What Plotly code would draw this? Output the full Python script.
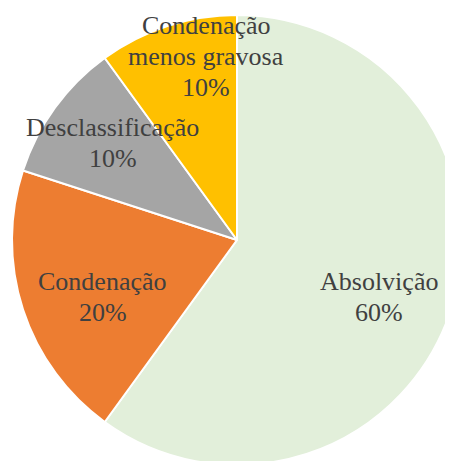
import math
import plotly.graph_objects as go

categories = ["Absolvição", "Condenação", "Desclassificação", "Condenação menos gravosa"]
values = [60, 20, 10, 10]
label_lines = [["Absolvição"], ["Condenação"], ["Desclassificação"], ["Condenação", "menos gravosa"]]
colors = ["#E2EFDA", "#ED7D31", "#A5A5A5", "#FFC000"]

# label placement style (radius fraction and angular shift from slice middle)
label_r = [0.681, 0.648, 0.700, 0.825]
label_shift = [4.0, -5.2, 2.0, 8.4]

# page body has a default 8px margin; margins below compensate for it
ML, MR, MT, MB = 4, 12, 7, 15
PW = PH = 450
W, H = ML + PW + MR, MT + PH + MB
LINE_PX = 31

fig = go.Figure(go.Pie(
    labels=categories, values=values, sort=False, direction="clockwise", rotation=0,
    marker=dict(colors=colors, line=dict(color="white", width=2)),
    textinfo="none", hoverinfo="label+percent", showlegend=False,
))

total = sum(values)
cum = 0
annotations = []
for i, v in enumerate(values):
    mid = (cum + v / 2) / total * 360 + label_shift[i]
    cum += v
    th = math.radians(mid)
    cx = 0.5 + 0.5 * label_r[i] * math.sin(th)
    cy = 0.5 + 0.5 * label_r[i] * math.cos(th)
    lines = label_lines[i] + [f"{round(v / total * 100)}%"]
    n = len(lines)
    for j, txt in enumerate(lines):
        off = ((n - 1) / 2 - j) * LINE_PX / PH
        annotations.append(dict(
            x=cx, y=cy + off, xref="paper", yref="paper",
            text=txt, showarrow=False,
            font=dict(family="Liberation Serif", size=26, color="#404040"),
            xanchor="center", yanchor="middle",
        ))

fig.update_layout(width=W, height=H, margin=dict(l=ML, r=MR, t=MT, b=MB),
                  paper_bgcolor="white", annotations=annotations)

fig.write_html(
    "out.html",
    config={"displayModeBar": False},
    post_script=(
        "var d=document.createElement('div');d.textContent=' ';"
        "d.style.cssText='position:fixed;top:0;left:0;width:1px;height:1px;opacity:0;font-family:\"Liberation Serif\"';"
        "document.body.appendChild(d);"
        "var gd=document.getElementById('{plot_id}');"
        "if(document.fonts&&document.fonts.ready){document.fonts.ready.then(function(){Plotly.relayout(gd,{});});}"
    ),
)
